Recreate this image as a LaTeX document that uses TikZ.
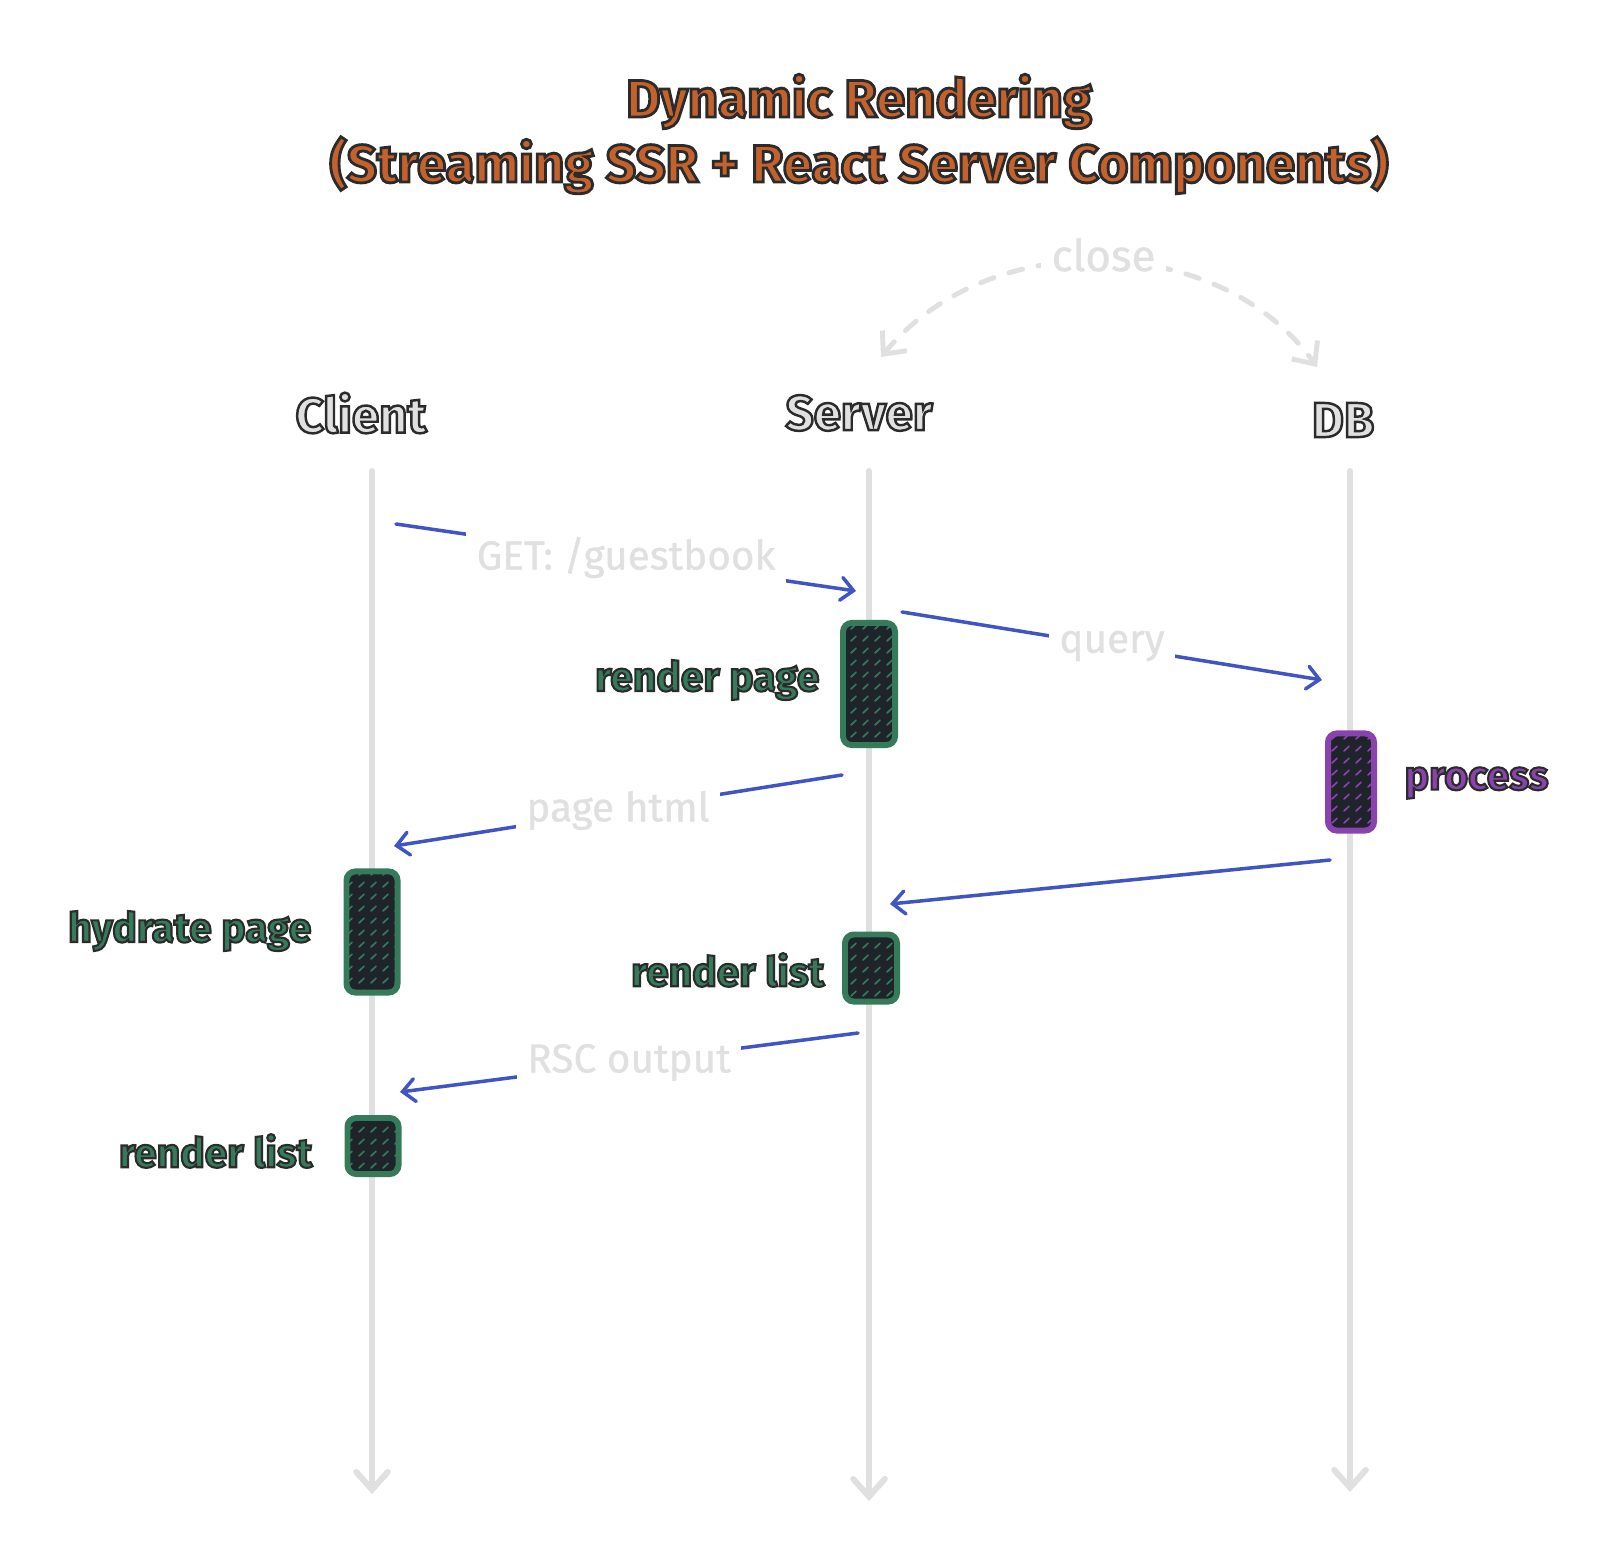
\documentclass[tikz,border=0pt]{standalone}
\usepackage{fontspec}
\setmainfont{Fira Sans}
\newfontfamily\msgfont[FakeBold=0.8]{Fira Sans}
\usetikzlibrary{arrows.meta,patterns.meta}

\definecolor{titleorange}{HTML}{C4622D}
\definecolor{inkdark}{HTML}{2B2B2B}
\definecolor{lifegray}{HTML}{E0E0E0}
\definecolor{msgblue}{HTML}{4154C4}
\definecolor{actgreen}{HTML}{357A5A}
\definecolor{actpurple}{HTML}{8A43AD}
\definecolor{boxdark}{HTML}{1F232A}

\newcommand{\inked}[3][0.6]{{\color{#2}\special{pdf:code 0.17 0.17 0.17 RG 2 Tr #1 w}#3\special{pdf:code 0 Tr}}}

\tikzdeclarepattern{name=dashgrid, type=uncolored,
  bounding box={(0pt,0pt) and (3.5pt,3.5pt)}, tile size={(3.5pt,3.5pt)},
  code={\draw[line width=0.5pt, line cap=round] (0.9pt,0.9pt) -- (2.4pt,2.3pt);}}

\tikzset{
  lifeline/.style={draw=lifegray, line width=1.7pt, line cap=round,
    -{Straight Barb[length=5pt,width=9pt,line cap=round]}},
  msg/.style={draw=msgblue, line width=1pt, line cap=round,
    -{Straight Barb[length=3.5pt,width=6.5pt,line cap=round]}},
  msglabel/.style={fill=white, text=lifegray, inner sep=3pt,
    font=\msgfont\fontsize{11.5}{13}\selectfont},
  actbox/.style={draw=#1, pattern color=#1, rounded corners=2.5pt, line width=1.7pt,
    preaction={fill=boxdark}, pattern={dashgrid}, inner sep=0pt},
  actlabel/.style={inner sep=0pt, font=\fontsize{11.6}{14}\bfseries\selectfont},
  party/.style={font=\fontsize{14}{16}\bfseries\selectfont},
}

\begin{document}
\begin{tikzpicture}[x=0.01cm, y=-0.01cm]
\useasboundingbox (0,0) rectangle (1607,1564);

\node[align=center, font=\fontsize{15}{18.5}\bfseries\selectfont] (title) at (859,134)
  {\inked[0.8]{titleorange}{Dynamic Rendering}\\\inked[0.8]{titleorange}{(Streaming SSR + React Server Components)}};

\node[party] (client) at (361,413) {\inked[0.7]{lifegray}{Client}};
\node[party] (server) at (859,413) {\inked[0.7]{lifegray}{Server}};
\node[party] (db) at (1343,420) {\inked[0.7]{lifegray}{DB}};

\coordinate (clientTop) at (372,471);
\coordinate (clientEnd) at (372,1494);
\coordinate (serverTop) at (869,471);
\coordinate (serverEnd) at (869,1501);
\coordinate (dbTop) at (1350,471);
\coordinate (dbEnd) at (1350,1492);
\draw [lifeline] (clientTop) -- (clientEnd);
\draw [lifeline] (serverTop) -- (serverEnd);
\draw [lifeline] (dbTop) -- (dbEnd);

\coordinate (closeL) at (881,357);
\coordinate (closeR) at (1317,367);
\draw [draw=lifegray, line width=1.4pt, line cap=round, dash pattern=on 4pt off 4.5pt,
  {Straight Barb[length=5pt,width=9pt]}-{Straight Barb[length=5pt,width=9pt]}]
  (closeL) .. controls (990,225) and (1220,232) .. (closeR)
  node[pos=0.5, yshift=2pt, fill=white, text=lifegray, inner sep=3pt, font=\msgfont\fontsize{12.5}{14}\selectfont] (close) {close};

\node[actbox=actgreen, minimum width=0.52cm, minimum height=1.22cm] (renderPage) at (869,684) {};
\node[actbox=actpurple, minimum width=0.46cm, minimum height=0.97cm] (process) at (1351,782) {};
\node[actbox=actgreen, minimum width=0.51cm, minimum height=1.21cm] (hydratePage) at (372,932) {};
\node[actbox=actgreen, minimum width=0.52cm, minimum height=0.67cm] (serverList) at (871,968) {};
\node[actbox=actgreen, minimum width=0.51cm, minimum height=0.56cm] (clientList) at (373,1146) {};

\node[actlabel, anchor=east] (renderPageLbl) at (820,680) {\inked{actgreen}{render page}};
\node[actlabel, anchor=west] (processLbl) at (1404,783) {\inked{actpurple}{process}};
\node[actlabel, anchor=east] (hydratePageLbl) at (312,931) {\inked{actgreen}{hydrate page}};
\node[actlabel, anchor=east] (serverListLbl) at (825,970) {\inked{actgreen}{render list}};
\node[actlabel, anchor=east] (clientListLbl) at (313,1151) {\inked{actgreen}{render list}};

\coordinate (getFrom) at (396,524);
\coordinate (getTo) at (856,591);
\coordinate (queryFrom) at (902,612);
\coordinate (queryTo) at (1322,680);
\coordinate (htmlFrom) at (842,775);
\coordinate (htmlTo) at (394,846);
\coordinate (rowsFrom) at (1330,860);
\coordinate (rowsTo) at (890,904);
\coordinate (rscFrom) at (858,1033);
\coordinate (rscTo) at (400,1092);
\draw [msg] (getFrom) -- (getTo) node[msglabel, midway] {GET: /guestbook};
\draw [msg] (queryFrom) -- (queryTo) node[msglabel, midway] {query};
\draw [msg] (htmlFrom) -- (htmlTo) node[msglabel, midway] {page html};
\draw [msg] (rowsFrom) -- (rowsTo);
\draw [msg] (rscFrom) -- (rscTo) node[msglabel, midway] {RSC output};
\end{tikzpicture}
\end{document}
